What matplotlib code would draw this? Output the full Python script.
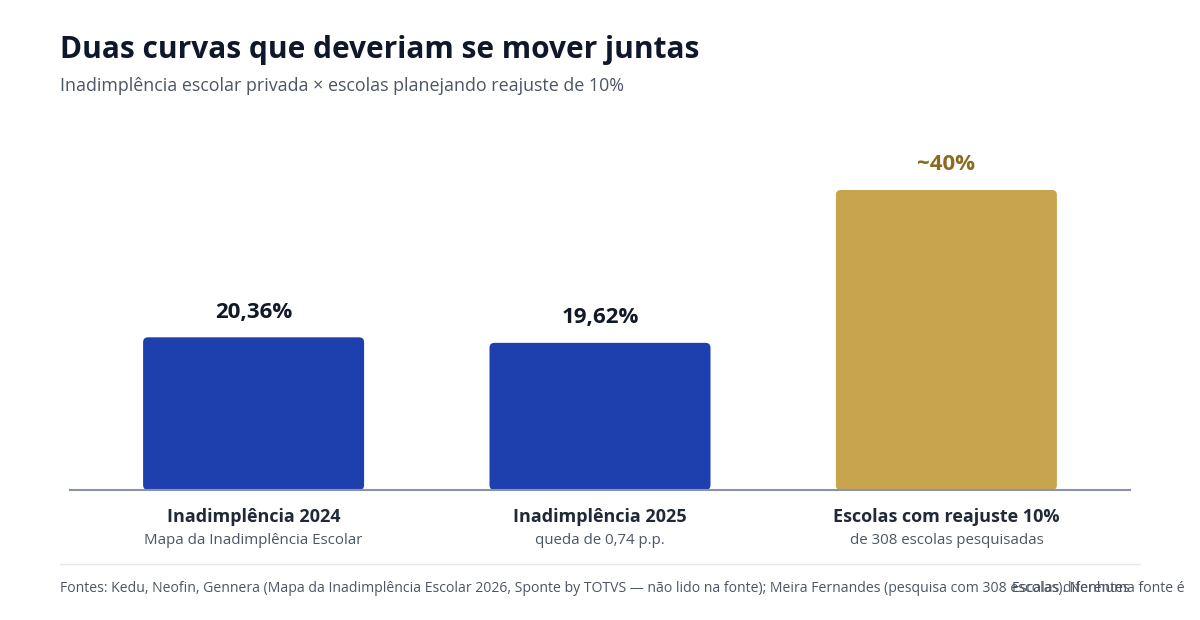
import matplotlib
matplotlib.use("Agg")
import matplotlib.pyplot as plt
from matplotlib.patches import FancyBboxPatch
from matplotlib.lines import Line2D

plt.rcParams['font.family'] = ['Open Sans', 'DejaVu Sans']

categories = ["Inadimplência 2024", "Inadimplência 2025", "Escolas com reajuste 10%"]
sublabels = ["Mapa da Inadimplência Escolar", "queda de 0,74 p.p.", "de 308 escolas pesquisadas"]
values = [20.36, 19.62, 40.0]
value_labels = ["20,36%", "19,62%", "~40%"]
bar_colors = ["#1E40AF", "#1E40AF", "#C8A44E"]
label_colors = ["#111827", "#111827", "#8B6B1F"]

title = "Duas curvas que deveriam se mover juntas"
subtitle = "Inadimplência escolar privada × escolas planejando reajuste de 10%"
footer = ("Fontes: Kedu, Neofin, Gennera (Mapa da Inadimplência Escolar 2026, Sponte by TOTVS — não lido na fonte); "
          "Meira Fernandes (pesquisa com 308 escolas). Nenhuma fonte é")
footer_overlay = "Escalas diferentes"

W, H = 1200, 620
fig = plt.figure(figsize=(W / 100, H / 100), dpi=100)
fig.patch.set_facecolor("white")

# axes: x 70..1130, y baseline 490, top 130
ax = fig.add_axes([70 / W, 1 - 490 / H, (1130 - 70) / W, (490 - 130) / H])
x = list(range(len(categories)))
ax.set_xlim(-0.53, 2.53)
ax.set_ylim(0, 48)
ax.axis("off")

bw = 0.638
bars = ax.bar(x, values, width=bw, color=bar_colors)
px_per_x = (1130 - 70) / (2.53 + 0.53)
px_per_y = (490 - 130) / 48
r_px = 5
r_x = r_px / px_per_x
aspect = (r_px / px_per_y) / r_x
for b, c in zip(bars, bar_colors):
    b.set_visible(False)
    p = FancyBboxPatch((b.get_x(), b.get_y()), b.get_width(), b.get_height(),
                       boxstyle=f"round,pad=0,rounding_size={r_x}",
                       mutation_aspect=aspect, facecolor=c, edgecolor="none")
    ax.add_patch(p)

for xi, v, lab, lc in zip(x, values, value_labels, label_colors):
    ax.annotate(lab, (xi, v), xytext=(0, 25 * 0.72), textcoords="offset points",
                ha="center", va="center", fontsize=16, fontweight="bold", color=lc)

# baseline
ax.axhline(0, color="#8A94A6", lw=1.5, xmin=0, xmax=1, clip_on=False)

for xi, cat, sub in zip(x, categories, sublabels):
    ax.annotate(cat, (xi, 0), xytext=(0, -27 * 0.72), textcoords="offset points",
                ha="center", va="center", fontsize=13, fontweight="bold", color="#1F2937")
    ax.annotate(sub, (xi, 0), xytext=(0, -50 * 0.72), textcoords="offset points",
                ha="center", va="center", fontsize=10.8, color="#4B5563")

fig.text(60 / W, 1 - 50 / H, title, ha="left", va="center", fontsize=21.5,
         fontweight="bold", color="#0F172A")
fig.text(60 / W, 1 - 86 / H, subtitle, ha="left", va="center", fontsize=12.9,
         color="#4B5563")

fig.add_artist(Line2D([60 / W, 1140 / W], [1 - 564 / H, 1 - 564 / H],
                      color="#E5E7EB", lw=1, transform=fig.transFigure))
fig.text(60 / W, 1 - 588 / H, footer, ha="left", va="center", fontsize=10.1,
         color="#4B5563")
fig.text(1012 / W, 1 - 588 / H, footer_overlay, ha="left", va="center", fontsize=10.1,
         color="#4B5563")

fig.savefig("out.png", dpi=100, facecolor="white")
